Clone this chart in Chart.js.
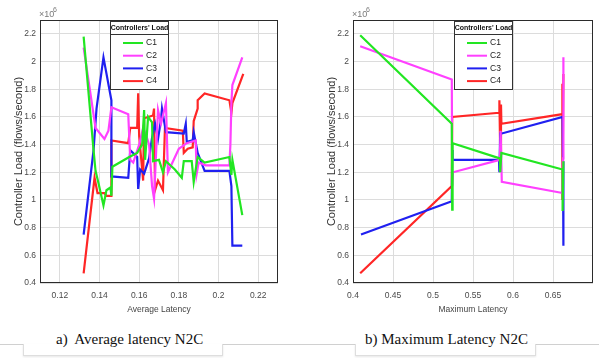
<!DOCTYPE html>
<html>
<head>
<meta charset="utf-8">
<script src="https://cdn.jsdelivr.net/npm/chart.js@4"></script>
<style>
  body { margin: 0; background: #fff; width: 599px; height: 358px; position: relative; overflow: hidden; }
  canvas { position: absolute; top: 0; }
  #avg { left: 0; }
  #max { left: 300px; }
  .rule { position: absolute; top: 344px; left: 0; width: 599px; height: 1px; background: #d0d0d0; }
  .card { position: absolute; top: 344px; height: 11px; background: #fff; border: 1px solid #dedede; border-top: none; box-shadow: 0 1px 2px rgba(0,0,0,0.10); }
  .cap { position: absolute; top: 331px; font-family: "Liberation Serif", "Times New Roman", serif; font-size: 15px; line-height: 17px; color: #111; white-space: pre; }
</style>
</head>
<body>
<canvas id="avg" width="300" height="320"></canvas>
<canvas id="max" width="299" height="320"></canvas>
<div class="rule"></div>
<div class="card" style="left:23px;width:198px"></div>
<div class="card" style="left:355px;width:179px"></div>
<div class="cap" style="left:56px">a)  Average latency N2C</div>
<div class="cap" style="left:365px">b) Maximum Latency N2C</div>
<script>
// series names and colours
const seriesNames = ["C1", "C2", "C3", "C4"]
const seriesColors = ["#22e622", "#ff40ff", "#2020f0", "#ff2626"]

// y ticks (x10^6 flows/second), shared by both plots
const loadTicks = [0.4, 0.6, 0.8, 1, 1.2, 1.4, 1.6, 1.8, 2, 2.2]

// a) average latency N2C  -> [latency, load]
const avgTicks = [0.12, 0.14, 0.16, 0.18, 0.2, 0.22]
const avgC1 = [[0.132,2.18],[0.137,1.36],[0.138,1.21],[0.1395,1.12],[0.142,0.96],[0.1435,1.07],[0.1455,1.09],[0.146,1.03],[0.1465,1.24],[0.155,1.31],[0.159,1.34],[0.1615,1.40],[0.1625,1.65],[0.163,1.29],[0.1645,1.60],[0.1665,1.56],[0.167,1.28],[0.170,1.29],[0.172,1.20],[0.1735,1.28],[0.178,1.22],[0.1815,1.16],[0.1825,1.28],[0.1865,1.28],[0.1875,1.13],[0.1895,1.31],[0.193,1.27],[0.2055,1.31],[0.2065,1.18],[0.207,1.29],[0.212,0.89]]
const avgC2 = [[0.132,2.10],[0.138,1.52],[0.1425,1.44],[0.1445,1.50],[0.146,1.67],[0.1545,1.62],[0.1555,1.29],[0.157,1.27],[0.160,1.40],[0.162,1.52],[0.1635,1.47],[0.165,1.40],[0.1665,1.10],[0.1675,1.01],[0.1695,1.65],[0.171,1.55],[0.1735,1.70],[0.1745,1.20],[0.180,1.37],[0.184,1.41],[0.1885,1.43],[0.189,1.19],[0.190,1.27],[0.1935,1.25],[0.2055,1.25],[0.206,1.40],[0.2065,1.70],[0.207,1.83],[0.212,2.03]]
const avgC3 = [[0.132,0.75],[0.137,1.36],[0.1385,1.66],[0.142,2.03],[0.146,1.72],[0.146,1.17],[0.1545,1.16],[0.1555,1.36],[0.159,1.31],[0.1595,1.08],[0.1605,1.22],[0.1625,1.19],[0.165,1.30],[0.1665,1.45],[0.168,1.55],[0.1695,1.44],[0.171,1.58],[0.1715,1.66],[0.1735,1.49],[0.1825,1.48],[0.1835,1.55],[0.184,1.42],[0.187,1.43],[0.1875,1.49],[0.1895,1.34],[0.193,1.21],[0.2055,1.21],[0.2065,1.10],[0.207,0.67],[0.212,0.67]]
const avgC4 = [[0.132,0.47],[0.1375,1.16],[0.139,1.05],[0.1425,1.05],[0.1435,1.03],[0.146,1.03],[0.146,1.43],[0.1545,1.41],[0.1555,1.52],[0.159,1.52],[0.1595,1.77],[0.160,1.46],[0.162,1.14],[0.1625,1.59],[0.167,1.61],[0.1675,1.66],[0.168,1.07],[0.1695,1.14],[0.172,1.07],[0.173,1.52],[0.182,1.50],[0.1825,1.34],[0.1845,1.37],[0.187,1.38],[0.1875,1.57],[0.1895,1.66],[0.1895,1.72],[0.193,1.77],[0.2055,1.72],[0.2065,1.63],[0.207,1.70],[0.2125,1.91]]

// b) maximum latency N2C -> [latency, load]
const maxTicks = [0.4, 0.45, 0.5, 0.55, 0.6, 0.65]
const maxC1 = [[0.409,2.19],[0.5235,1.55],[0.524,0.93],[0.5245,1.41],[0.5835,1.30],[0.584,1.20],[0.5855,1.34],[0.662,1.22],[0.662,0.92],[0.663,1.28]]
const maxC2 = [[0.409,2.11],[0.5235,1.87],[0.524,1.10],[0.525,1.20],[0.5835,1.29],[0.5845,1.50],[0.586,1.13],[0.662,1.05],[0.6625,1.30],[0.663,2.03]]
const maxC3 = [[0.41,0.75],[0.5235,0.99],[0.524,1.36],[0.5245,1.29],[0.5825,1.29],[0.583,1.20],[0.584,1.48],[0.586,1.48],[0.662,1.60],[0.6625,1.28],[0.663,0.67]]
const maxC4 = [[0.409,0.47],[0.5235,1.10],[0.524,1.60],[0.5825,1.63],[0.583,1.72],[0.584,1.35],[0.585,1.69],[0.5855,1.55],[0.662,1.62],[0.6615,1.84],[0.662,1.00],[0.663,1.91]]

const SANS = '"Liberation Sans", Arial, sans-serif'

// axes box, x10^6 label and the boxed legend, matlab style
const matlabBits = {
  id: "matlabBits",
  afterDraw(chart, args, opts) {
    const { ctx, chartArea: a } = chart
    ctx.save()
    ctx.strokeStyle = "#2b2b2b"
    ctx.lineWidth = 1
    ctx.strokeRect(a.left + 0.5, a.top + 0.5, a.right - a.left - 1, a.bottom - a.top - 1)

    ctx.fillStyle = "#7a7a7a"
    ctx.font = "9px " + SANS
    ctx.textBaseline = "alphabetic"
    ctx.fillText("\u00d710", a.left - 1, a.top - 3)
    ctx.font = "7px " + SANS
    ctx.fillText("6", a.left + 13, a.top - 8)

    const x = a.left + opts.dx, y = a.top + 1, w = 58, h = 68
    ctx.fillStyle = "#fff"
    ctx.fillRect(x, y, w, h)
    ctx.strokeStyle = "#333"
    ctx.strokeRect(x + 0.5, y + 0.5, w, h)
    ctx.beginPath()
    ctx.moveTo(x, y + 13.5)
    ctx.lineTo(x + w, y + 13.5)
    ctx.stroke()
    ctx.fillStyle = "#111"
    ctx.font = "bold 7px " + SANS
    ctx.textAlign = "center"
    ctx.textBaseline = "middle"
    ctx.fillText("Controllers' Load", x + w / 2 + 0.5, y + 7)
    ctx.textAlign = "left"
    ctx.font = "8.5px " + SANS
    chart.data.datasets.forEach((ds, i) => {
      const ly = y + 22 + i * 12.7
      ctx.strokeStyle = ds.borderColor
      ctx.lineWidth = 2
      ctx.beginPath()
      ctx.moveTo(x + 13, ly)
      ctx.lineTo(x + 33, ly)
      ctx.stroke()
      ctx.fillStyle = "#222"
      ctx.fillText(ds.label, x + 36, ly)
    })
    ctx.restore()
  }
}

function makeChart(id, series, xTicks, xMin, xMax, xTitle, pad, legendDx) {
  return new Chart(document.getElementById(id), {
    type: "line",
    data: {
      datasets: series.map((d, i) => ({
        label: seriesNames[i],
        data: d,
        borderColor: seriesColors[i],
        backgroundColor: seriesColors[i],
        borderWidth: 2.2,
        pointRadius: 0,
        tension: 0
      }))
    },
    options: {
      responsive: false,
      animation: false,
      devicePixelRatio: 1,
      layout: { padding: pad },
      plugins: {
        legend: { display: false },
        tooltip: { enabled: false },
        matlabBits: { dx: legendDx }
      },
      scales: {
        x: {
          type: "linear",
          min: xMin,
          max: xMax,
          afterBuildTicks: s => { s.ticks = xTicks.map(v => ({ value: v })) },
          afterFit: s => { s.height = 37 },
          grid: { color: "#dcdcdc", drawTicks: false },
          border: { display: false },
          ticks: { padding: 8, color: "#4a4a4a", font: { family: SANS, size: 8.5 }, callback: v => String(v) },
          title: { display: true, text: xTitle, color: "#444", font: { family: SANS, size: 8.5 }, padding: { top: 0, bottom: 5 } }
        },
        y: {
          min: 0.4,
          max: 2.3,
          afterBuildTicks: s => { s.ticks = loadTicks.map(v => ({ value: v })) },
          afterFit: s => { s.width = 34 },
          grid: { color: "#dcdcdc", drawTicks: false },
          border: { display: false },
          ticks: { padding: 4, color: "#4a4a4a", font: { family: SANS, size: 8.5 }, callback: v => String(v) },
          title: { display: true, text: "Controller Load (flows/second)", color: "#333", font: { family: SANS, size: 11 }, padding: { top: 6, bottom: 0 } }
        }
      }
    },
    plugins: [matlabBits]
  })
}

makeChart("avg", [avgC1, avgC2, avgC3, avgC4], avgTicks, 0.11, 0.23, "Average Latency",
  { left: 6, right: 22, top: 20, bottom: 0 }, 70)
makeChart("max", [maxC1, maxC2, maxC3, maxC4], maxTicks, 0.4, 0.7, "Maximum Latency",
  { left: 19, right: 6, top: 20, bottom: 0 }, 101)
</script>
</body>
</html>
